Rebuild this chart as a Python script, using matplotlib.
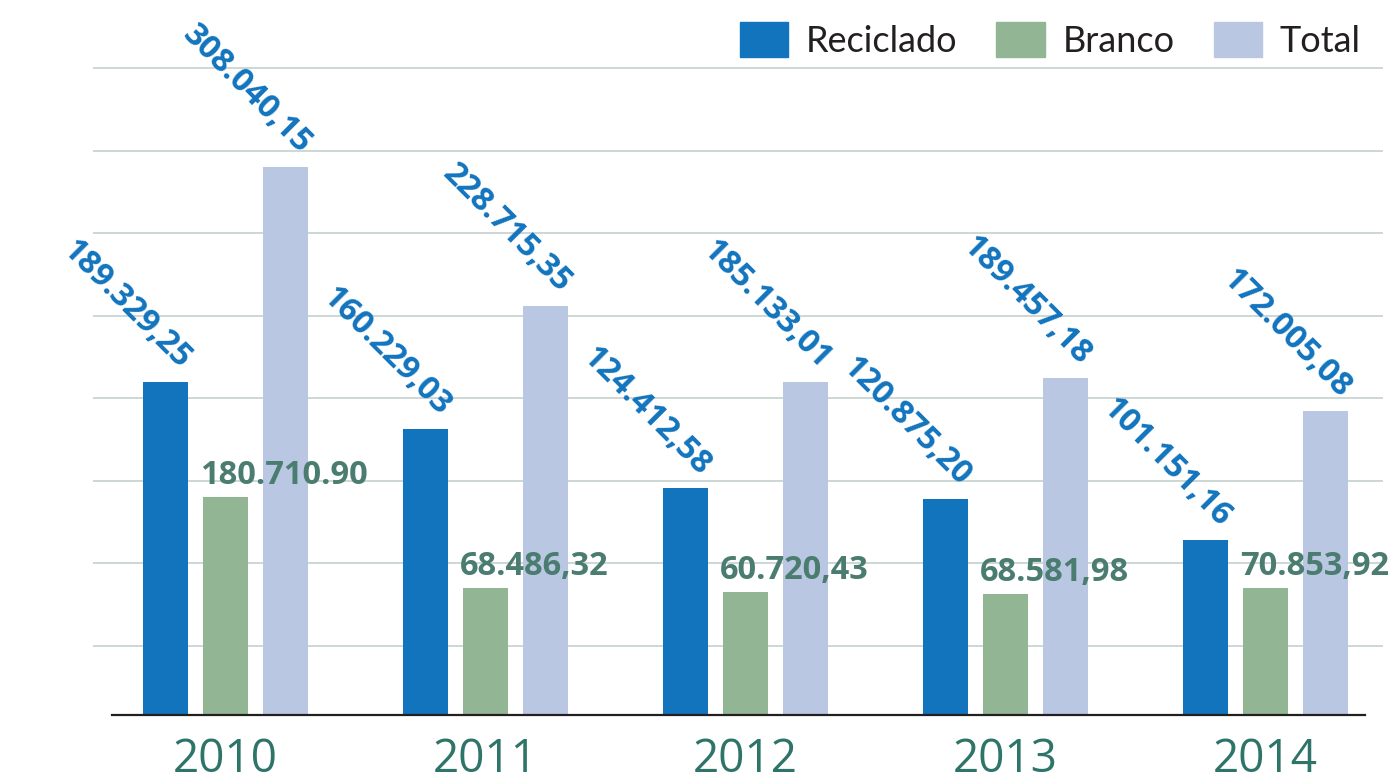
import numpy as np
import matplotlib
matplotlib.use("Agg")
import matplotlib.pyplot as plt
from matplotlib.patches import Patch

anos = ["2010", "2011", "2012", "2013", "2014"]

# alturas das barras (em milhares)
reciclado = [186.5, 160.2, 127.1, 121.0, 98.0]
branco = [122.1, 71.1, 68.9, 67.8, 71.1]
total = [306.9, 229.0, 186.5, 188.7, 170.2]

# rotulos tal como aparecem no grafico
rot_reciclado = ["189.329,25", "160.229,03", "124.412,58", "120.875,20", "101.151,16"]
rot_branco = ["180.710.90", "68.486,32", "60.720,43", "68.581,98", "70.853,92"]
rot_total = ["308.040,15", "228.715,35", "185.133,01", "189.457,18", "172.005,08"]

# linhas de grade (milhares)
grade = [38.6, 84.9, 131.1, 177.4, 223.6, 269.8, 316.1, 362.3]

cor_rec = "#1174bd"
cor_bra = "#92b594"
cor_tot = "#b9c7e3"
cor_ano = "#2e7469"
cor_rot_bra = "#4a7c70"

W, H = 1395, 779
fig = plt.figure(figsize=(W / 100, H / 100), dpi=100)
ax = fig.add_axes([93 / W, (H - 715) / H, (1383 - 93) / W, (715 - 60) / H])

x = np.arange(len(anos))
larg = 0.173
desl = 0.232

ax.bar(x - desl, reciclado, larg, color=cor_rec, zorder=2)
ax.bar(x, branco, larg, color=cor_bra, zorder=2)
ax.bar(x + desl, total, larg, color=cor_tot, zorder=2)

ax.set_xlim(-0.5096, 4.452)
ax.set_ylim(0, 655 * 0.56)

ax.set_yticks(grade)
ax.yaxis.grid(True, color="#c9d4d2", lw=1.3)
ax.set_axisbelow(True)
ax.tick_params(axis="y", length=0, labelleft=False)
for s in ax.spines.values():
    s.set_visible(False)

# linha de base
ax.plot([-0.4365, 4.3827], [0, 0], color="#231f20", lw=1.6, clip_on=False, zorder=3)

ax.set_xticks(x, anos)
ax.tick_params(axis="x", length=0, pad=16, labelsize=33, labelcolor=cor_ano)
for t in ax.get_xticklabels():
    t.set_fontfamily("Open Sans")

fonte_rot = dict(family="Open Sans", fontsize=23.5, fontweight="bold")

for i in range(len(anos)):
    ax.annotate(rot_reciclado[i], xy=(x[i] - desl, reciclado[i]), xytext=(14, 12),
                textcoords="offset pixels", rotation=-45, rotation_mode="anchor",
                ha="right", va="baseline", color=cor_rec, **fonte_rot)
    ax.annotate(rot_total[i], xy=(x[i] + desl, total[i]), xytext=(14, 12),
                textcoords="offset pixels", rotation=-45, rotation_mode="anchor",
                ha="right", va="baseline", color=cor_rec, **fonte_rot)
    ax.annotate(rot_branco[i], xy=(x[i] - larg / 2, branco[i]), xytext=(-3, 13),
                textcoords="offset pixels", ha="left", va="baseline",
                color=cor_rot_bra, **fonte_rot)

handles = [Patch(color=cor_rec, label="Reciclado"),
           Patch(color=cor_bra, label="Branco"),
           Patch(color=cor_tot, label="Total")]
fig.legend(handles=handles, loc="upper right", bbox_to_anchor=(1361 / W, 1 - 22 / H),
           ncol=3, frameon=False, borderpad=0, borderaxespad=0,
           prop=dict(family="Lato", weight="normal", size=26),
           labelcolor="#231f20", handlelength=48 / 36, handleheight=40 / 36,
           handletextpad=0.5, columnspacing=1.08)

fig.savefig("out.png", dpi=100)
